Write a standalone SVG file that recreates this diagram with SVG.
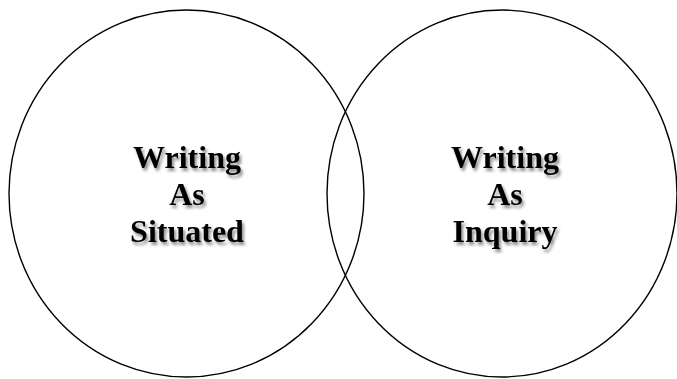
<svg xmlns="http://www.w3.org/2000/svg" width="677" height="379" viewBox="0 0 677 379">
<defs>
<filter id="sh" x="-20%" y="-20%" width="140%" height="140%">
<feDropShadow dx="2" dy="3" stdDeviation="1.8" flood-color="#000" flood-opacity="0.45"/>
</filter>
</defs>
<style>
.c{fill:none;stroke:#000;stroke-width:1.4}
.t{font-family:"Liberation Serif","Times New Roman",serif;font-weight:bold;font-size:32px;text-anchor:middle;fill:#000;filter:url(#sh)}
</style>
<rect width="677" height="379" fill="#fff"/>
<g id="situated">
<ellipse class="c" cx="186.5" cy="193.5" rx="177.5" ry="183.5"/>
<text class="t" x="187" y="168">Writing</text>
<text class="t" x="187" y="205">As</text>
<text class="t" x="187" y="242">Situated</text>
</g>
<g id="inquiry">
<ellipse class="c" cx="502" cy="193.5" rx="175" ry="183.5"/>
<text class="t" x="505" y="168">Writing</text>
<text class="t" x="505" y="205">As</text>
<text class="t" x="505" y="242">Inquiry</text>
</g>
<g id="connectors"/>
</svg>
